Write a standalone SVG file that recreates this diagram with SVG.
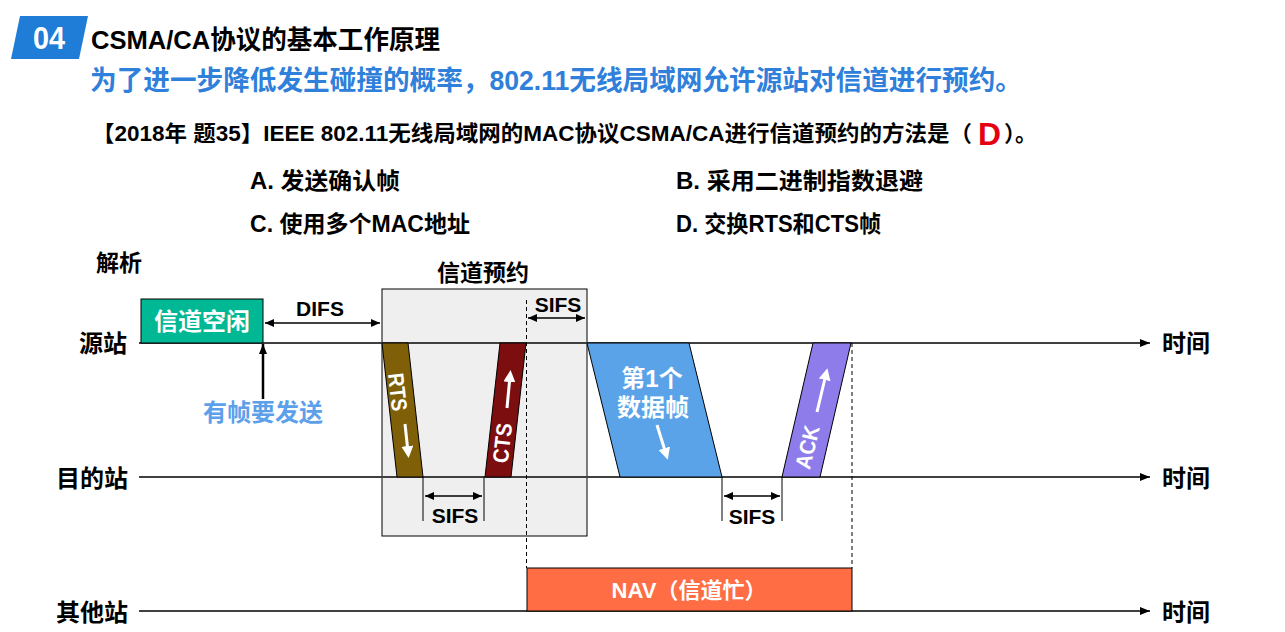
<svg xmlns="http://www.w3.org/2000/svg" width="1285" height="632" viewBox="0 0 1285 632">
<defs>
<style>
text{font-family:"Liberation Sans","Noto Sans CJK SC",sans-serif;font-weight:bold}
.blk{fill:#000}
.wht{fill:#fff}
.axis{stroke:#404040;stroke-width:2;fill:none}
.dim{stroke:#000;stroke-width:1.5;fill:none}
.tick{stroke:#000;stroke-width:1;fill:none}
.dash{stroke:#000;stroke-width:1;stroke-dasharray:4 3;fill:none}
.frame{stroke:#000;stroke-width:1}
.warr{stroke:#fff;stroke-width:3;fill:none}
</style>
<marker id="ah" markerWidth="10" markerHeight="8" refX="10" refY="4" orient="auto" markerUnits="userSpaceOnUse">
<path d="M0,0 L10,4 L0,8 Z" fill="#000"/>
</marker>
<marker id="dh" markerWidth="9" markerHeight="8" refX="9" refY="4" orient="auto-start-reverse" markerUnits="userSpaceOnUse">
<path d="M0,0 L9,4 L0,8 Z" fill="#000"/>
</marker>
<marker id="wh" markerWidth="12" markerHeight="12" refX="6" refY="6" orient="auto" markerUnits="userSpaceOnUse">
<path d="M0,0 L12,6 L0,12 Z" fill="#fff"/>
</marker>
</defs>
<rect width="1285" height="632" fill="#fff"/>

<g id="header">
<polygon points="20,16 88,16 79,59 11,59" fill="#1F7DD8"/>
<text x="49" y="49" font-size="32" fill="#fff" text-anchor="middle" textLength="32" lengthAdjust="spacingAndGlyphs">04</text>
<text x="91" y="49" font-size="26" class="blk" textLength="349" lengthAdjust="spacingAndGlyphs">CSMA/CA协议的基本工作原理</text>
<text x="90" y="90" font-size="27" fill="#2E80DA" textLength="932" lengthAdjust="spacingAndGlyphs">为了进一步降低发生碰撞的概率，802.11无线局域网允许源站对信道进行预约。</text>
</g>

<g id="question">
<text x="92" y="141" font-size="22" class="blk" textLength="880" lengthAdjust="spacingAndGlyphs">【2018年 题35】IEEE 802.11无线局域网的MAC协议CSMA/CA进行信道预约的方法是（</text>
<text x="978" y="145" font-size="32" fill="#E50012" textLength="23" lengthAdjust="spacingAndGlyphs">D</text>
<text x="1004" y="141" font-size="22" class="blk">）。</text>
<text x="250" y="189" font-size="23" class="blk" textLength="150" lengthAdjust="spacingAndGlyphs">A. 发送确认帧</text>
<text x="676" y="189" font-size="23" class="blk" textLength="247" lengthAdjust="spacingAndGlyphs">B. 采用二进制指数退避</text>
<text x="250" y="232" font-size="23" class="blk" textLength="220" lengthAdjust="spacingAndGlyphs">C. 使用多个MAC地址</text>
<text x="676" y="232" font-size="23" class="blk" textLength="205" lengthAdjust="spacingAndGlyphs">D. 交换RTS和CTS帧</text>
<text x="96" y="271" font-size="23" class="blk">解析</text>
</g>

<g id="reservation">
<rect x="382" y="289" width="205" height="247" fill="#EFEFEF" class="frame"/>
<text x="483" y="281" font-size="23" class="blk" text-anchor="middle">信道预约</text>
</g>

<g id="connectors">
<line x1="139" y1="343" x2="1150" y2="343" class="axis" marker-end="url(#ah)"/>
<line x1="139" y1="477" x2="1150" y2="477" class="axis" marker-end="url(#ah)"/>
<line x1="139" y1="611" x2="1150" y2="611" class="axis" marker-end="url(#ah)"/>
<line x1="263" y1="399" x2="263" y2="344" stroke="#000" stroke-width="2.5" marker-end="url(#ah)"/>
<line x1="265" y1="323" x2="380" y2="323" class="dim" marker-start="url(#dh)" marker-end="url(#dh)"/>
<line x1="528" y1="318" x2="585" y2="318" class="dim" marker-start="url(#dh)" marker-end="url(#dh)"/>
<line x1="425" y1="496" x2="482" y2="496" class="dim" marker-start="url(#dh)" marker-end="url(#dh)"/>
<line x1="724" y1="496" x2="780" y2="496" class="dim" marker-start="url(#dh)" marker-end="url(#dh)"/>
<line x1="423" y1="477" x2="423" y2="521" class="tick"/>
<line x1="484" y1="477" x2="484" y2="521" class="tick"/>
<line x1="722" y1="477" x2="722" y2="521" class="tick"/>
<line x1="782" y1="477" x2="782" y2="521" class="tick"/>
<line x1="526.5" y1="300" x2="526.5" y2="568" class="dash"/>
<line x1="852" y1="343" x2="852" y2="568" class="dash"/>
</g>

<g id="labels">
<text x="127" y="352" font-size="24" class="blk" text-anchor="end">源站</text>
<text x="128" y="487" font-size="24" class="blk" text-anchor="end">目的站</text>
<text x="128" y="621" font-size="24" class="blk" text-anchor="end">其他站</text>
<text x="1162" y="352" font-size="24" class="blk">时间</text>
<text x="1162" y="487" font-size="24" class="blk">时间</text>
<text x="1162" y="621" font-size="24" class="blk">时间</text>
<text x="320" y="316" font-size="21" class="blk" text-anchor="middle">DIFS</text>
<text x="558" y="312" font-size="21" class="blk" text-anchor="middle">SIFS</text>
<text x="455" y="523" font-size="21" class="blk" text-anchor="middle">SIFS</text>
<text x="752" y="524" font-size="21" class="blk" text-anchor="middle">SIFS</text>
<text x="263" y="421" font-size="24" fill="#5C9FEA" text-anchor="middle">有帧要发送</text>
</g>

<g id="idle">
<rect x="141" y="299" width="122" height="44" fill="#00B894" class="frame"/>
<text x="202" y="330" font-size="24" class="wht" text-anchor="middle">信道空闲</text>
</g>

<g id="rts">
<polygon points="382,343 408,343 423,477 397,477" fill="#7F5F07" class="frame"/>
<text transform="translate(398,392) rotate(83.6)" font-size="22" class="wht" text-anchor="middle" dy="8" textLength="38" lengthAdjust="spacingAndGlyphs">RTS</text>
<line x1="405" y1="424" x2="408" y2="452" class="warr" marker-end="url(#wh)"/>
</g>

<g id="cts">
<polygon points="500,343 526,343 511,477 485,477" fill="#7C0E10" class="frame"/>
<text transform="translate(502,443) rotate(-83.6)" font-size="22" class="wht" text-anchor="middle" dy="8" textLength="40" lengthAdjust="spacingAndGlyphs">CTS</text>
<line x1="507" y1="408" x2="510" y2="376" class="warr" marker-end="url(#wh)"/>
</g>

<g id="data">
<polygon points="587,343 689,343 722,477 620,477" fill="#5BA3E8" class="frame"/>
<text x="652" y="387" font-size="24" class="wht" text-anchor="middle">第1个</text>
<text x="653" y="416" font-size="24" class="wht" text-anchor="middle">数据帧</text>
<line x1="657" y1="425" x2="666" y2="454" class="warr" marker-end="url(#wh)"/>
</g>

<g id="ack">
<polygon points="813,343 851,343 820,477 782,477" fill="#8E7CEB" class="frame"/>
<text transform="translate(807,447) rotate(-77)" font-size="22" class="wht" text-anchor="middle" dy="8" textLength="44" lengthAdjust="spacingAndGlyphs">ACK</text>
<line x1="817" y1="412" x2="826" y2="374" class="warr" marker-end="url(#wh)"/>
</g>

<g id="nav">
<rect x="527" y="568" width="325" height="43" fill="#FF6D45" class="frame"/>
<text x="689" y="598" font-size="22" class="wht" text-anchor="middle">NAV（信道忙）</text>
</g>
</svg>
